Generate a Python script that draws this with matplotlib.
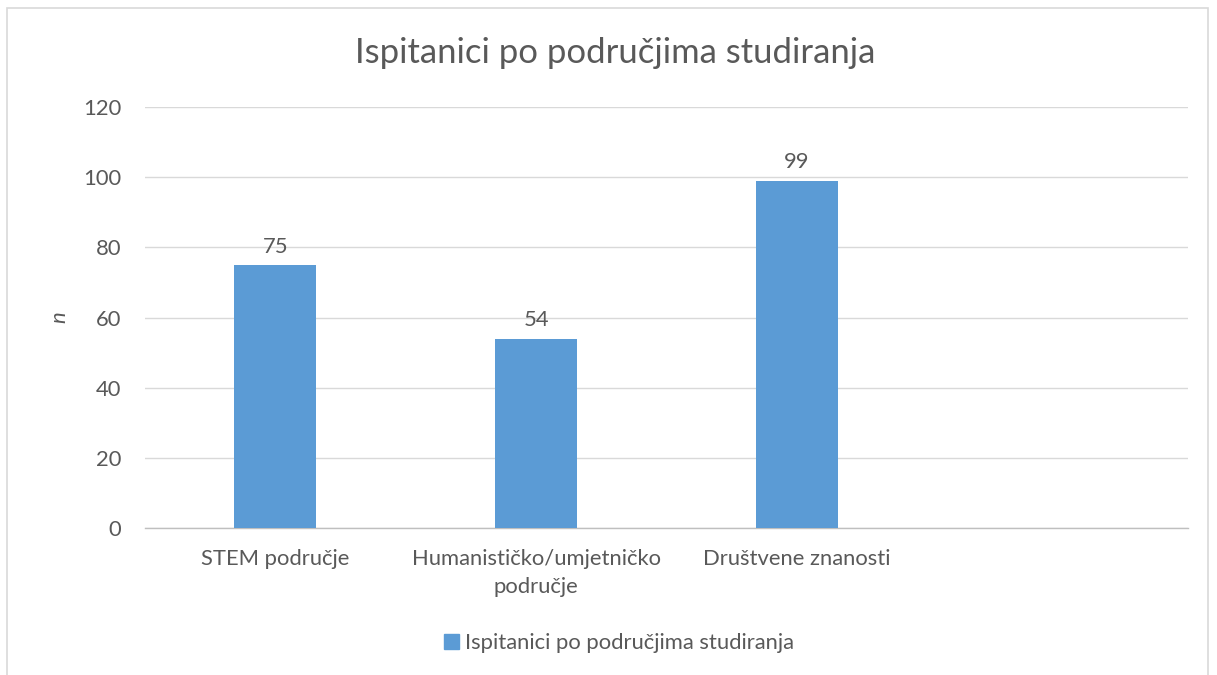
import matplotlib
matplotlib.use("Agg")
import matplotlib.pyplot as plt
from matplotlib.patches import Rectangle, Patch

categories = ["STEM područje", "Humanističko/umjetničko\npodručje", "Društvene znanosti"]
values = [75, 54, 99]
series_name = "Ispitanici po područjima studiranja"
title = "Ispitanici po područjima studiranja"
yticks = [0, 20, 40, 60, 80, 100, 120]

plt.rcParams['font.family'] = ['Lato', 'DejaVu Sans']
txt = '#595959'
bar_color = '#5B9BD5'
grid_c = '#D9D9D9'
fs = 15.8

W, H = 1217, 675
fig = plt.figure(figsize=(W/100, H/100), dpi=100)
fig.patches.append(Rectangle((7/W, -0.1), (1208-7)/W, 1.1 - 8/H, transform=fig.transFigure,
                             fill=False, edgecolor=grid_c, linewidth=1.2, clip_on=False))
ax = fig.add_axes([145/W, 1-528/H, (1188-145)/W, (528-107)/H])

x = list(range(len(categories)))
bars = ax.bar(x, values, width=0.315, color=bar_color, zorder=3)
for xi, v in zip(x, values):
    ax.annotate(str(v), (xi, v), xytext=(0, 6), textcoords='offset points',
                ha='center', va='bottom', fontsize=fs, color=txt)

ax.set_xlim(-0.5, 3.5)
ax.set_ylim(0, 120)
ax.set_yticks(yticks)
ax.set_xticks(x)
ax.set_xticklabels(categories, fontsize=fs, color=txt, linespacing=1.5, ha='center', multialignment='center')
ax.tick_params(axis='both', length=0, colors=txt, labelsize=fs)
ax.tick_params(axis='y', pad=17)
ax.tick_params(axis='x', pad=15)
ax.grid(axis='y', color=grid_c, linewidth=1, zorder=0)
for s in ['top', 'right', 'left']:
    ax.spines[s].set_visible(False)
ax.spines['bottom'].set_color('#BFBFBF')
ax.spines['bottom'].set_linewidth(1)

ax.set_ylabel('n', fontsize=fs, color=txt, style='italic', labelpad=10)
fig.text(615/W, 1-53/H, title, ha='center', va='center', fontsize=24.9, color=txt)

fig.legend(handles=[Patch(color=bar_color, label=series_name)], loc='center',
           bbox_to_anchor=(619/W, 1-643/H), frameon=False, fontsize=fs,
           labelcolor=txt, handlelength=0.7, handleheight=0.7, handletextpad=0.3)

fig.savefig('out.png', dpi=100)
